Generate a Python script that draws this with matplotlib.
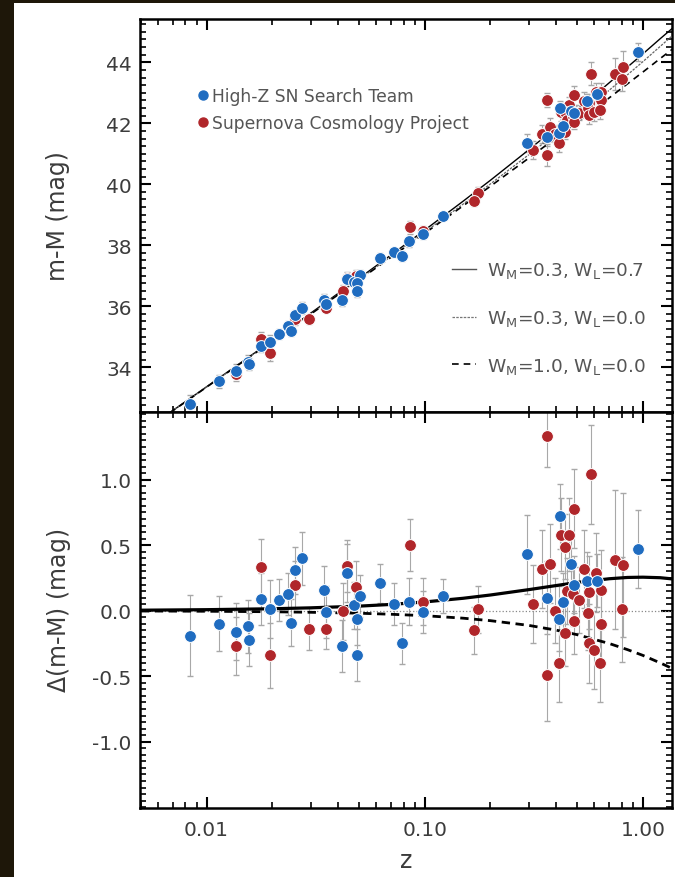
import numpy as np
import matplotlib
matplotlib.use("Agg")
import matplotlib.pyplot as plt
from matplotlib.patches import Rectangle
from matplotlib.lines import Line2D
from matplotlib.ticker import FixedLocator, FixedFormatter, MultipleLocator, LogLocator, NullFormatter

plt.rcParams['font.family'] = ['DejaVu Sans']
plt.rcParams['mathtext.default'] = 'regular'

# model curves (z, distance modulus of the reference model, residuals)
z_model = [0.005, 0.01, 0.02, 0.03, 0.05, 0.07, 0.1, 0.15, 0.2, 0.3, 0.4, 0.5, 0.7, 0.85, 1.0, 1.2, 1.4]
mu_ref = [31.84, 33.35, 34.86, 35.75, 36.88, 37.63, 38.43, 39.35, 40.01, 40.97, 41.67, 42.22,
          43.08, 43.59, 44.02, 44.52, 44.94]
dmu_lambda = [0.004, 0.008, 0.015, 0.022, 0.035, 0.048, 0.067, 0.095, 0.120, 0.161, 0.192, 0.216,
              0.244, 0.254, 0.256, 0.252, 0.241]
dmu_eds = [-0.002, -0.004, -0.008, -0.012, -0.019, -0.027, -0.038, -0.057, -0.076, -0.112, -0.148,
           -0.183, -0.250, -0.297, -0.341, -0.398, -0.450]
model_labels = ['W$_M$=0.3, W$_L$=0.7', 'W$_M$=0.3, W$_L$=0.0', 'W$_M$=1.0, W$_L$=0.0']

# High-Z SN Search Team: z, residual, error
hz_z = [0.0084, 0.0114, 0.0137, 0.0155, 0.0156, 0.0177, 0.0195, 0.0215, 0.0235, 0.0243, 0.0255, 0.0274,
        0.0344, 0.0351, 0.0418, 0.0439, 0.0475, 0.0505, 0.0490, 0.0490, 0.0624, 0.0726, 0.0790, 0.0850,
        0.0980, 0.121, 0.293, 0.365, 0.417, 0.414, 0.430, 0.467, 0.483, 0.557, 0.614, 0.945]
hz_dmu = [-0.19, -0.10, -0.16, -0.12, -0.22, 0.09, 0.015, 0.08, 0.13, -0.09, 0.31, 0.40,
          0.16, -0.01, -0.27, 0.29, 0.04, 0.11, -0.06, -0.34, 0.21, 0.05, -0.25, 0.07,
          -0.01, 0.11, 0.43, 0.10, 0.72, -0.06, 0.07, 0.36, 0.20, 0.23, 0.23, 0.47]
hz_err = [0.31, 0.21, 0.22, 0.20, 0.20, 0.20, 0.22, 0.16, 0.16, 0.18, 0.18, 0.20,
          0.18, 0.20, 0.20, 0.22, 0.18, 0.16, 0.20, 0.20, 0.15, 0.16, 0.16, 0.18,
          0.16, 0.13, 0.30, 0.28, 0.25, 0.25, 0.22, 0.25, 0.22, 0.22, 0.20, 0.30]

# Supernova Cosmology Project: z, residual, error
scp_z = [0.0137, 0.0177, 0.0195, 0.0253, 0.0294, 0.0351, 0.0420, 0.0439, 0.0486, 0.0857, 0.0980,
         0.175, 0.168, 0.365, 0.365, 0.312, 0.346, 0.375, 0.394, 0.414, 0.420, 0.458, 0.438, 0.438,
         0.483, 0.451, 0.480, 0.509, 0.483, 0.537, 0.577, 0.566, 0.560, 0.566, 0.597, 0.610, 0.641,
         0.641, 0.636, 0.743, 0.815, 0.806]
scp_dmu = [-0.27, 0.33, -0.34, 0.20, -0.14, -0.14, -0.005, 0.34, 0.18, 0.50, 0.07,
           0.01, -0.15, 1.33, -0.49, 0.05, 0.32, 0.36, 0.00, -0.40, 0.58, 0.58, 0.49, -0.17,
           0.78, 0.15, 0.13, 0.08, -0.08, 0.32, 1.04, 0.14, -0.02, -0.25, -0.30, 0.29, 0.16,
           -0.10, -0.40, 0.39, 0.35, 0.01]
scp_err = [0.22, 0.22, 0.25, 0.18, 0.16, 0.15, 0.22, 0.20, 0.20, 0.20, 0.18,
           0.18, 0.18, 0.23, 0.35, 0.30, 0.30, 0.30, 0.25, 0.30, 0.28, 0.28, 0.25, 0.25,
           0.30, 0.25, 0.25, 0.25, 0.25, 0.30, 0.38, 0.28, 0.28, 0.30, 0.30, 0.30, 0.30,
           0.30, 0.30, 0.53, 0.55, 0.40]

xtick_vals = [0.01, 0.1, 1.0]
xtick_labels = ['0.01', '0.10', '1.00']
dtick_vals = [-1.0, -0.5, 0.0, 0.5, 1.0]
dtick_labels = ['-1.0', '-0.5', '0.0', '0.5', '1.0']

blue = '#1f6cc0'
red = '#b0262a'
ebar_col = '#a8a8a8'
txt_col = '#3c3c3c'

zm = np.array(z_model)
mref = np.array(mu_ref)
dl = np.array(dmu_lambda)
de = np.array(dmu_eds)


def mu_at(z):
    return np.interp(np.log10(z), np.log10(zm), mref)


fig = plt.figure(figsize=(6.75, 8.78), dpi=100, facecolor='#1e1709')
fig.patches.append(Rectangle((14 / 675, 0), 1, 1 - 4 / 878, transform=fig.transFigure,
                             facecolor='white', edgecolor='none', zorder=-5))

ax1 = fig.add_axes([140 / 675, 1 - 413 / 878, 532 / 675, 393 / 878])
ax2 = fig.add_axes([140 / 675, 1 - 809 / 878, 532 / 675, 396 / 878])

series = [(scp_z, scp_dmu, scp_err, red), (hz_z, hz_dmu, hz_err, blue)]

# upper panel
ax1.plot(zm, mref + dl, color='black', lw=1.0, zorder=3)
ax1.plot(zm, mref, color='#666666', lw=0.9, ls=(0, (2, 1)), zorder=3)
ax1.plot(zm, mref + de, color='black', lw=1.2, ls=(0, (4, 3)), zorder=3)
for z, d, e, c in series:
    z = np.array(z)
    mu = mu_at(z) + np.array(d)
    ax1.errorbar(z, mu, yerr=e, fmt='none', ecolor=ebar_col, elinewidth=0.8, capsize=2, zorder=2)
for z, d, e, c in series:
    z = np.array(z)
    mu = mu_at(z) + np.array(d)
    ax1.plot(z, mu, 'o', color=c, ms=8.5, mec='white', mew=0.7, zorder=4)

# lower panel
ax2.plot(zm, np.zeros_like(zm), color='#888888', lw=0.9, ls=':', zorder=3)
ax2.plot(zm, dl, color='black', lw=2.3, zorder=3)
ax2.plot(zm, de, color='black', lw=2.0, ls=(0, (3, 2)), zorder=3)
for z, d, e, c in series:
    ax2.errorbar(z, d, yerr=e, fmt='none', ecolor=ebar_col, elinewidth=0.8, capsize=2, zorder=2)
for z, d, e, c in series:
    ax2.plot(z, d, 'o', color=c, ms=8.5, mec='white', mew=0.7, zorder=4)

for ax in (ax1, ax2):
    ax.set_xscale('log')
    ax.set_xlim(0.00495, 1.36)
    ax.xaxis.set_major_locator(FixedLocator(xtick_vals))
    ax.xaxis.set_minor_locator(LogLocator(base=10, subs=np.arange(2, 10)))
    ax.xaxis.set_minor_formatter(NullFormatter())
    ax.tick_params(which='both', direction='in', top=True, right=True, colors='black',
                   labelcolor=txt_col, labelsize=14.5, pad=6)
    ax.tick_params(which='major', length=8, width=1.5)
    ax.tick_params(which='minor', length=4, width=1.2)
    for s in ax.spines.values():
        s.set_linewidth(1.8)

ax1.set_ylim(32.53, 45.42)
ax1.yaxis.set_major_locator(MultipleLocator(2))
ax1.yaxis.set_minor_locator(MultipleLocator(0.25))
ax1.xaxis.set_major_formatter(NullFormatter())
ax1.set_ylabel('m-M (mag)', fontsize=17, color=txt_col, labelpad=26)

ax2.set_ylim(-1.506, 1.517)
ax2.set_yticks(dtick_vals)
ax2.set_yticklabels(dtick_labels)
ax2.yaxis.set_minor_locator(MultipleLocator(0.05))
ax2.xaxis.set_major_formatter(FixedFormatter(xtick_labels))
ax2.tick_params(axis='x', pad=9)
ax2.set_xlabel('z', fontsize=17, color=txt_col, labelpad=6)
ax2.set_ylabel('$\\Delta$(m-M) (mag)', fontsize=17, color=txt_col, labelpad=14)

# legends
h_series = [Line2D([], [], marker='o', ls='none', color=blue, ms=6.5),
            Line2D([], [], marker='o', ls='none', color=red, ms=6.5)]
leg1 = ax1.legend(h_series, ['High-Z SN Search Team', 'Supernova Cosmology Project'],
                  loc='upper left', bbox_to_anchor=(0.08, 0.865), frameon=False, fontsize=12.3,
                  handlelength=0.6, handletextpad=0.2, labelspacing=0.5, labelcolor='#555555')
ax1.add_artist(leg1)

h_models = [Line2D([], [], color='#555555', lw=1.0),
            Line2D([], [], color='#777777', lw=0.9, ls=(0, (2, 1))),
            Line2D([], [], color='black', lw=1.2, ls=(0, (4, 3)))]
ax1.legend(h_models, model_labels, loc='lower right', bbox_to_anchor=(0.982, 0.05), frameon=False,
           fontsize=13.3, handlelength=1.3, handletextpad=0.6, labelspacing=1.5, labelcolor='#555555')

fig.savefig('out.png', dpi=100, facecolor=fig.get_facecolor())
